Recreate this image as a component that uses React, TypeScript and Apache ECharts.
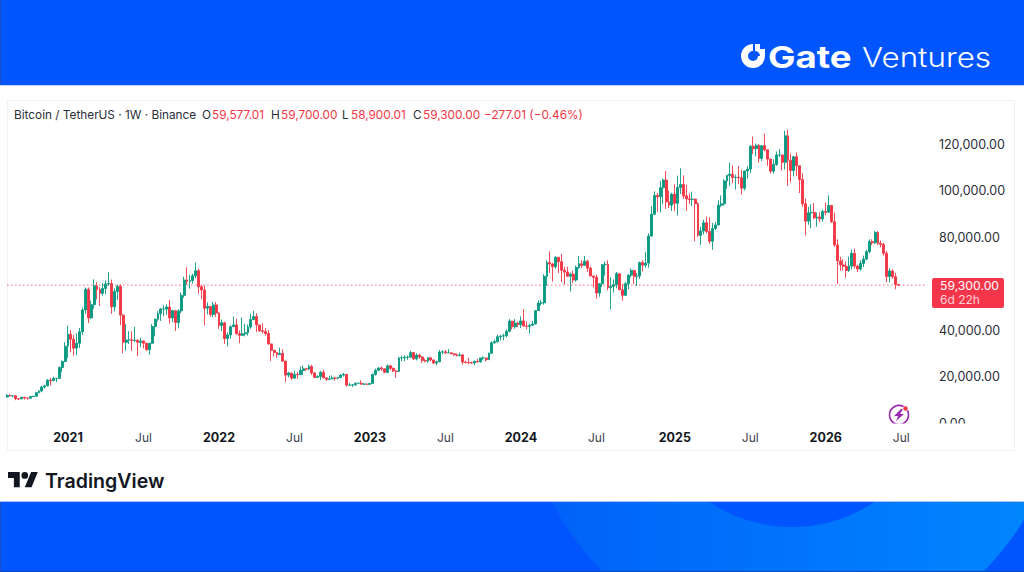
import React, { useEffect, useRef } from "react";
import * as echarts from "echarts";

// Weekly Bitcoin candles, in thousands of USDT, first week 10 Aug 2020.
const firstOpen = 11.2;
const closes = [
  // 2020
  11.85, 11.65, 11.71, 10.45, 10.33, 11.08, 10.77, 10.67, 11.37, 11.5, 13.03, 13.76, 15.48, 15.96, 18.41, 18.18, 19.15, 19.17, 23.86, 26.44, 33.0,
  // 2021
  38.2, 36.0, 32.2, 34.3, 39.2, 48.6, 57.4, 45.2, 50.9, 59.0, 57.4, 55.8, 57.9,
  59.8, 60.0, 50.0, 56.6, 58.8, 46.4, 34.7, 35.7, 35.8, 35.5, 35.6, 34.7, 35.3,
  34.3, 31.5, 34.3, 41.5, 44.6, 47.0, 49.0, 49.0, 49.9, 45.2, 48.3, 43.2, 48.2,
  54.9, 61.5, 60.9, 61.3, 63.3, 65.5, 58.6, 57.2, 49.4, 50.1, 46.7, 50.8, 47.3,
  // 2022
  41.9, 43.1, 36.3, 37.9, 41.4, 42.2, 38.4, 37.7, 38.4, 38.8, 41.3, 44.5, 45.8,
  42.2, 39.7, 39.4, 38.5, 34.0, 31.3, 30.3, 29.4, 29.9, 26.6, 20.6, 21.5, 19.3,
  20.9, 20.8, 22.6, 23.3, 23.2, 24.3, 21.5, 19.6, 20.0, 21.8, 19.4, 18.8, 19.0,
  19.4, 19.3, 19.6, 20.6, 20.9, 16.3, 16.3, 16.4, 17.1, 17.1, 16.7, 16.8, 16.6,
  // 2023
  17.0, 20.9, 22.7, 23.7, 23.3, 21.8, 24.6, 23.5, 22.4, 22.2, 28.0, 28.0, 28.2,
  28.3, 30.3, 27.6, 29.2, 28.4, 26.9, 26.7, 28.1, 27.1, 25.8, 26.3, 30.5, 30.6,
  30.2, 30.2, 29.8, 29.3, 29.0, 29.3, 26.2, 26.0, 25.9, 25.8, 26.5, 26.3, 28.0,
  28.0, 27.2, 30.0, 34.5, 35.0, 37.1, 37.4, 37.5, 39.5, 43.8, 41.4, 43.0, 42.3,
  // 2024
  43.9, 41.7, 41.6, 42.0, 42.6, 48.3, 51.6, 51.7, 63.1, 69.0, 68.4, 67.2, 71.3,
  69.4, 65.7, 64.9, 63.1, 64.0, 61.5, 66.9, 68.5, 67.8, 69.6, 66.6, 63.2, 62.7,
  55.9, 59.9, 68.1, 68.2, 58.2, 58.7, 59.5, 64.2, 57.3, 54.9, 59.9, 63.6, 65.6,
  63.0, 63.2, 69.0, 67.9, 68.8, 80.4, 89.8, 97.9, 97.3, 101.2, 104.5, 95.1, 93.7, 98.4,
  // 2025
  94.5, 101.3, 102.6, 97.7, 96.4, 96.1, 96.3, 94.3, 80.7, 82.6, 86.1, 82.4, 78.2,
  83.7, 85.2, 93.7, 94.3, 104.1, 106.5, 107.0, 105.6, 105.7, 105.5, 101.0, 108.4, 109.2,
  119.0, 118.0, 119.4, 113.8, 119.3, 117.5, 113.5, 108.3, 111.2, 115.3, 115.3, 112.1, 123.5,
  113.0, 108.6, 114.5, 110.6, 104.7, 94.3, 86.8, 90.4, 90.6, 88.2, 88.6, 87.8, 91.0,
  // 2026
  90.6, 93.6, 86.6, 76.6, 69.7, 68.0, 67.4, 65.6, 67.5, 73.0, 67.5, 66.2, 68.6,
  70.5, 73.7, 78.0, 77.5, 82.0, 77.3, 76.8, 73.0, 63.0, 65.4, 62.9, 59.577, 59.3,
];
const highs = [
  12.5, 12.4, 11.8, 12.05, 10.7, 11.2, 10.9, 11.0, 11.5, 11.7, 13.4, 14.1, 15.97, 16.5, 18.9, 19.4, 19.9, 19.4, 24.3, 26.9, 34.8,
  41.9, 40.1, 37.8, 38.5, 40.9, 49.7, 58.3, 58.3, 52.6, 61.8, 60.6, 58.4, 60.2,
  61.3, 64.9, 61.7, 57.9, 59.5, 59.6, 46.7, 42.6, 39.5, 39.4, 41.3, 36.0, 36.6,
  35.1, 34.6, 34.5, 42.6, 45.0, 48.1, 49.4, 50.5, 51.0, 52.9, 48.8, 48.0, 49.0,
  56.1, 62.9, 67.0, 63.7, 64.2, 69.0, 66.3, 59.4, 59.1, 51.9, 50.2, 52.1, 52.0,
  47.6, 44.5, 43.5, 38.9, 42.0, 45.8, 44.8, 39.8, 45.4, 42.6, 42.3, 47.0, 48.2,
  47.2, 41.5, 42.9, 40.8, 40.0, 34.2, 31.4, 30.6, 32.4, 31.8, 26.9, 22.0, 21.5,
  22.5, 22.0, 24.3, 24.7, 23.6, 25.2, 25.0, 21.9, 20.6, 22.4, 22.8, 19.7, 20.3,
  20.5, 19.9, 19.7, 21.0, 21.5, 21.0, 17.2, 16.8, 17.4, 17.4, 18.4, 17.0, 17.0,
  17.1, 21.3, 23.4, 23.9, 24.3, 23.4, 25.2, 25.0, 23.9, 22.6, 28.5, 28.9, 29.2,
  29.0, 31.0, 30.5, 30.0, 29.8, 28.6, 27.7, 28.2, 28.4, 27.4, 26.8, 31.4, 31.3,
  31.5, 31.8, 30.3, 29.9, 30.0, 30.2, 29.7, 26.8, 28.1, 26.4, 26.9, 27.5, 28.0,
  28.6, 28.0, 30.3, 35.2, 35.9, 38.0, 37.9, 38.4, 40.2, 44.7, 43.4, 44.7, 43.6,
  45.9, 49.0, 43.6, 42.8, 43.9, 48.6, 52.8, 53.0, 64.0, 70.0, 73.8, 68.9, 71.7,
  71.3, 72.8, 67.2, 67.2, 64.7, 65.5, 67.7, 71.9, 70.0, 71.9, 70.2, 67.3, 63.4,
  63.9, 60.0, 68.4, 69.4, 70.0, 62.7, 61.8, 65.0, 64.5, 59.8, 60.7, 64.1, 66.5,
  65.6, 64.5, 69.4, 70.0, 73.6, 81.5, 93.3, 99.6, 98.9, 104.1, 105.2, 108.4, 99.9, 99.0,
  102.7, 106.4, 109.6, 106.5, 102.5, 98.8, 99.5, 96.5, 95.0, 84.5, 87.4, 88.8, 88.5,
  86.1, 86.5, 95.8, 97.9, 104.9, 106.7, 112.0, 110.7, 106.8, 110.6, 108.9, 108.5, 110.5,
  119.5, 123.2, 120.2, 120.0, 119.4, 124.5, 117.3, 113.6, 113.4, 116.8, 117.9, 113.4, 125.7,
  126.2, 115.9, 114.9, 116.4, 107.5, 107.5, 96.6, 93.0, 94.1, 94.6, 90.6, 90.6, 91.8,
  94.8, 97.9, 93.6, 90.6, 79.0, 71.5, 70.5, 69.5, 71.5, 74.5, 75.0, 68.0, 70.0,
  72.0, 74.5, 79.0, 79.0, 82.6, 82.5, 78.5, 77.5, 74.0, 66.5, 66.0, 64.5, 59.7,
];
const lows = [
  11.1, 11.4, 11.1, 9.8, 9.85, 10.2, 10.1, 10.1, 10.5, 11.2, 11.4, 12.8, 13.2, 14.8, 15.8, 16.2, 18.1, 17.6, 19.0, 21.8, 26.1,
  28.0, 30.4, 28.9, 29.2, 32.3, 37.9, 47.0, 43.0, 44.9, 49.2, 53.2, 50.4, 54.7,
  55.4, 59.0, 47.0, 48.0, 52.9, 42.1, 30.0, 31.1, 34.0, 31.0, 34.8, 28.8, 32.7,
  32.1, 31.0, 29.3, 34.0, 37.3, 43.7, 43.9, 45.9, 46.5, 42.8, 43.4, 39.6, 40.7,
  47.2, 53.9, 59.5, 57.8, 60.0, 62.3, 55.6, 53.3, 42.0, 46.7, 45.7, 45.5, 45.7,
  40.5, 39.6, 34.0, 32.9, 36.2, 41.6, 38.0, 34.3, 37.5, 37.2, 37.6, 40.5, 44.2,
  39.1, 39.2, 38.5, 37.6, 33.7, 26.7, 28.6, 28.0, 29.3, 26.5, 17.6, 19.6, 18.6,
  19.0, 18.9, 20.8, 20.7, 22.4, 22.7, 20.7, 19.5, 19.6, 18.5, 19.3, 18.1, 18.5,
  19.1, 18.2, 18.7, 19.2, 20.0, 15.6, 15.8, 15.5, 16.0, 16.7, 16.6, 16.3, 16.3,
  16.5, 17.1, 20.4, 22.3, 22.5, 21.4, 21.4, 22.7, 21.9, 19.5, 21.9, 26.6, 26.5,
  27.2, 28.2, 27.1, 26.9, 27.7, 25.8, 26.1, 25.9, 26.5, 25.3, 24.8, 26.2, 29.5,
  29.7, 30.0, 29.5, 28.9, 28.6, 28.7, 25.2, 25.7, 25.3, 25.4, 24.9, 26.0, 26.0,
  27.2, 26.5, 27.2, 29.8, 34.1, 34.5, 35.5, 35.6, 36.8, 39.0, 40.2, 40.5, 41.3,
  40.8, 41.5, 40.3, 38.5, 41.9, 42.3, 48.3, 50.5, 50.9, 59.0, 64.5, 60.8, 66.4,
  64.5, 60.7, 59.6, 62.8, 56.5, 60.2, 60.8, 66.3, 66.7, 68.4, 65.0, 63.2, 58.4,
  53.5, 54.3, 58.5, 63.4, 57.1, 49.0, 56.1, 57.9, 57.2, 52.6, 54.6, 57.5, 62.7,
  59.8, 58.9, 62.0, 65.1, 66.8, 66.8, 80.2, 89.4, 90.8, 90.5, 94.1, 92.1, 92.5, 91.2,
  91.2, 89.2, 98.5, 96.4, 91.2, 94.1, 93.3, 78.2, 80.0, 76.6, 81.1, 81.6, 77.1,
  74.5, 83.0, 85.1, 92.8, 93.4, 100.7, 102.0, 103.1, 100.4, 102.7, 98.2, 100.0, 105.1,
  107.5, 115.7, 114.7, 111.9, 112.7, 116.8, 110.6, 107.3, 107.3, 110.6, 114.4, 108.6, 109.0,
  102.0, 103.5, 106.1, 106.2, 98.9, 93.0, 80.6, 85.3, 83.8, 87.6, 84.4, 86.4, 86.6,
  89.3, 90.8, 86.0, 75.7, 59.8, 65.5, 65.5, 62.5, 65.0, 66.0, 66.5, 65.0, 65.5,
  67.0, 70.0, 73.0, 76.5, 77.0, 76.5, 75.5, 72.0, 60.5, 60.5, 62.0, 57.5, 58.9,
];

const tickLabels = ["2021", "Jul", "2022", "Jul", "2023", "Jul", "2024", "Jul", "2025", "Jul", "2026", "Jul"];
const tickPositions = [21, 47, 73, 99, 125, 151, 177, 203, 230, 256, 282, 308];
const lastPrice = 59300;
const hiddenPriceLabel = 60000; // sits behind the last-price tag in the reference
const slotCount = 317;

const headerSymbol = "Bitcoin / TetherUS · 1W · Binance";
const headerPieces = [
  { text: "O", value: "59,577.01", x: 202, vx: 212 },
  { text: "H", value: "59,700.00", x: 271, vx: 281 },
  { text: "L", value: "58,900.01", x: 342, vx: 351 },
  { text: "C", value: "59,300.00", x: 413, vx: 423 },
];
const headerChange = "−277.01 (−0.46%)";

const UI = "Inter, 'Noto Sans', sans-serif";
const RED = "#F23645";
const GREEN = "#089981";
const BLUE = "#0055FE";

echarts.graphic.registerShape(
  "tvMark",
  echarts.graphic.extendPath(
    "M14 22H7V11H0V4h14v18zM28 22h-8l7.5-18h8L28 22zM24 8a4 4 0 1 1-8 0a4 4 0 0 1 8 0z",
    {}
  )
);
echarts.graphic.registerShape(
  "gateMark",
  echarts.graphic.extendPath(
    "M12 0A12 12 0 1 0 24 12H17A5 5 0 1 1 12 7ZM14 0h5v5h5v7h-5a5 5 0 0 0-5-5z",
    {}
  )
);
echarts.graphic.registerShape(
  "bolt",
  echarts.graphic.extendPath("M7 0L0 7h4l-2 5l8-7H6l3-5z", {})
);

function text(
  t: string,
  x: number,
  y: number,
  fill: string,
  font: string,
  textAlign = "left",
  z = 100
) {
  return {
    type: "text",
    z,
    silent: true,
    style: { text: t, x, y, fill, font, textAlign, textVerticalAlign: "middle" },
  };
}

function stretched(t: string, x: number, y: number, font: string, scaleX: number) {
  return {
    type: "text",
    z: 100,
    silent: true,
    x,
    y,
    scaleX,
    style: { text: t, x: 0, y: 0, fill: "#ffffff", font, textAlign: "left", textVerticalAlign: "middle" },
  };
}

function rect(x: number, y: number, width: number, height: number, fill: any, z = -5, r = 0) {
  return { type: "rect", z, silent: true, shape: { x, y, width, height, r }, style: { fill } };
}

export default function App() {
  const ref = useRef<HTMLDivElement>(null);
  useEffect(() => {
    document.body.style.margin = "0";
    const chart = echarts.init(ref.current!, undefined, { renderer: "svg" });
    const categories = Array.from({ length: slotCount }, (_, i) => {
      const at = tickPositions.indexOf(i);
      return at >= 0 ? tickLabels[at] : "";
    });
    const candles = closes.map((c, i) => [
      (i === 0 ? firstOpen : closes[i - 1]) * 1000,
      c * 1000,
      lows[i] * 1000,
      highs[i] * 1000,
    ]);
    const font = `11.8px ${UI}`;
    const header: any[] = [text(headerSymbol, 14, 115, "#2a2e39", font)];
    headerPieces.forEach((p) => {
      header.push(text(p.text, p.x, 115, "#2a2e39", font));
      header.push(text(p.value, p.vx, 115, RED, font));
    });
    header.push(text(headerChange, 484, 115, RED, font));

    chart.setOption({
      animation: false,
      backgroundColor: "#ffffff",
      grid: { left: 5.6, top: 120.75, width: 920.3, height: 302.25, containLabel: false },
      xAxis: {
        type: "category",
        data: categories,
        boundaryGap: true,
        axisLine: { show: false },
        axisTick: { show: false },
        splitLine: { show: false },
        axisLabel: {
          interval: (i: number) => tickPositions.includes(i),
          hideOverlap: false,
          margin: 8,
          formatter: (v: string) => (/^\d+$/.test(v) ? `{y|${v}}` : `{m|${v}}`),
          rich: {
            y: { fontFamily: UI, fontSize: 12.5, fontWeight: 700, color: "#131722", letterSpacing: 0.5 },
            m: { fontFamily: UI, fontSize: 12, fontWeight: 400, color: "#3a3e49" },
          },
        },
      },
      yAxis: {
        type: "value",
        position: "right",
        min: 0,
        max: 130000,
        interval: 20000,
        axisLine: { show: false },
        axisTick: { show: false },
        splitLine: { show: false },
        axisLabel: {
          showMaxLabel: false,
          align: "left",
          margin: 13,
          fontFamily: UI,
          fontSize: 12.5,
          color: "#2a2e39",
          formatter: (v: number) =>
            v === hiddenPriceLabel
              ? ""
              : v.toLocaleString("en-US", { minimumFractionDigits: 2, maximumFractionDigits: 2 }),
        },
      },
      series: [
        {
          type: "line",
          z: 1,
          silent: true,
          showSymbol: false,
          symbol: "none",
          data: categories.map(() => lastPrice),
          lineStyle: { color: "#F4606E", type: [1.5, 2.5], width: 1 },
        },
        {
          type: "candlestick",
          z: 3,
          data: candles,
          barWidth: 2.4,
          clip: true,
          itemStyle: {
            color: GREEN,
            borderColor: GREEN,
            color0: RED,
            borderColor0: RED,
            borderWidth: 0.9,
          },
        },
      ],
      graphic: {
        elements: [
          rect(0, 0, 1024, 572, "#fefefe", -10),
          rect(0, 502, 1024, 70, BLUE, -9),
          {
            type: "circle",
            z: -8,
            silent: true,
            shape: { cx: 793, cy: 380, r: 270 },
            style: {
              fill: {
                type: "linear",
                x: 0,
                y: 0,
                x2: 1,
                y2: 0,
                colorStops: [
                  { offset: 0, color: "#0060F8" },
                  { offset: 1, color: "#0088FF" },
                ],
              },
            },
          },
          { type: "circle", z: -7, silent: true, shape: { cx: 792, cy: 378, r: 149 }, style: { fill: BLUE } },
          rect(0, 85, 1024, 417, "#fefefe", -6),
          rect(0, 0, 1024, 85, BLUE, -6),
          rect(0, 85, 1024, 1, "#c6d6fb", -5),
          rect(0, 501, 1024, 1, "#a9c4fb", -5),
          rect(0, 0, 1, 85, "#1c4fbe", -5),
          rect(0, 502, 1, 70, "#1c4fbe", -5),
          rect(0, 571, 1024, 1, "#0a4bbd", -5),
          {
            type: "rect",
            z: -5,
            silent: true,
            shape: { x: 7.5, y: 100.5, width: 1007, height: 350 },
            style: { fill: "#ffffff", stroke: "#f1f2f4", lineWidth: 1 },
          },
          // Clips the bottom price label as the original pane does.
          rect(880, 423.5, 130, 7, "#ffffff", 50),
          // Lightning badge
          {
            type: "circle",
            z: 40,
            silent: true,
            shape: { cx: 899, cy: 415, r: 9.5 },
            style: { fill: "none", stroke: "#9c27b0", lineWidth: 1.6 },
          },
          { type: "bolt", z: 41, silent: true, x: 894, y: 409, scaleX: 1, scaleY: 1, style: { fill: "#9c27b0" } },
          {
            type: "circle",
            z: 42,
            silent: true,
            shape: { cx: 905.5, cy: 408.5, r: 2.6 },
            style: { fill: RED, stroke: "#ffffff", lineWidth: 0.8 },
          },
          // Last price tag
          rect(932, 278, 72, 30, "#F5364A", 60, 2),
          text("59,300.00", 940, 285.7, "#ffffff", `12.2px ${UI}`, "left", 61),
          text("6d 22h", 940, 299.5, "#ffd0d5", `12px ${UI}`, "left", 61),
          ...header,
          // Brand marks
          { type: "gateMark", z: 100, silent: true, x: 741, y: 44, scaleX: 1, scaleY: 1, style: { fill: "#ffffff" } },
          stretched("Gate", 768, 57, `700 30px ${UI}`, 1.22),
          stretched("Ventures", 862, 57, `300 27.5px ${UI}`, 1.14),
          { type: "tvMark", z: 100, silent: true, x: 8, y: 468.7, scaleX: 0.84, scaleY: 0.84, style: { fill: "#131722" } },
          text("TradingView", 45, 480.5, "#131722", `600 19.6px ${UI}`),
        ],
      },
    });
    return () => chart.dispose();
  }, []);
  return <div ref={ref} style={{ width: 1024, height: 572 }} />;
}
